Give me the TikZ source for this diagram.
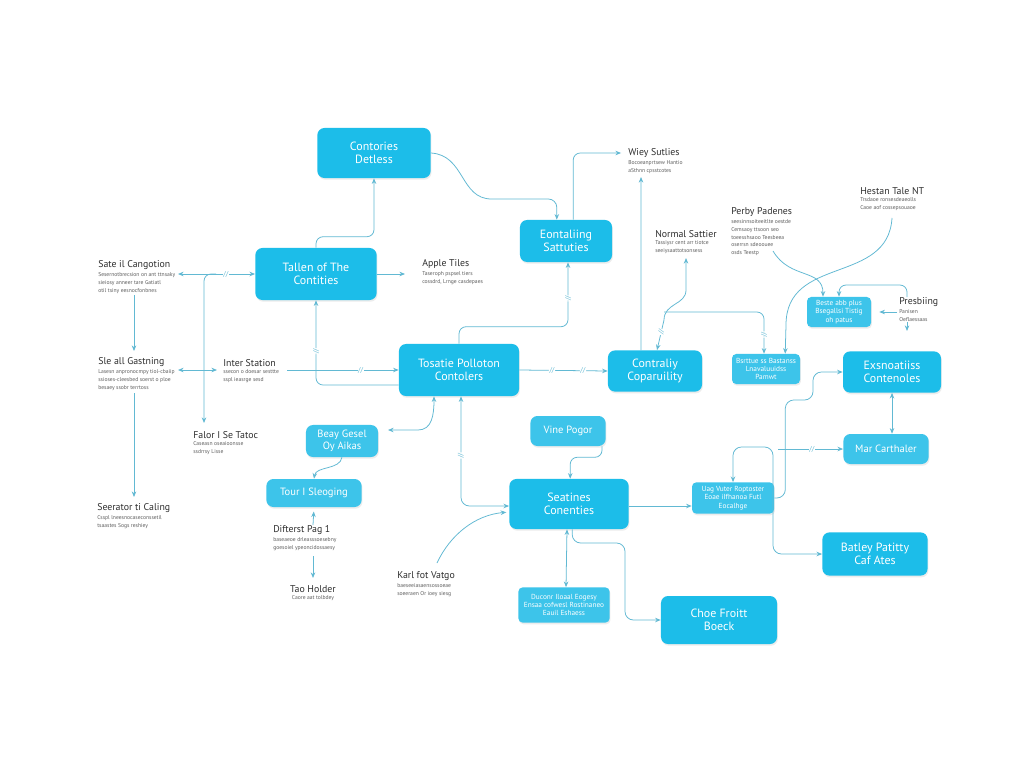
\documentclass[tikz,border=0pt]{standalone}
\usepackage{fontspec}
\setmainfont{PT Sans}
\usetikzlibrary{arrows.meta,positioning,calc,shadows}
\definecolor{boxblue}{HTML}{1CBDE9}
\definecolor{boxlight}{HTML}{3DC4EA}
\definecolor{linkblue}{HTML}{62B9D3}
\definecolor{inkgray}{HTML}{2E2E2E}
\definecolor{descgray}{HTML}{5E5E5E}
\tikzset{
  cbox/.style={rounded corners=5pt, fill=boxblue, text=white, align=center, inner sep=1pt,
    font=\fontsize{8.5}{9.5}\selectfont,
    drop shadow={opacity=0.15, shadow xshift=0.6pt, shadow yshift=-1.2pt}},
  cboxsm/.style={cbox, fill=boxlight, font=\fontsize{7.5}{8.5}\selectfont},
  cboxtiny/.style={cbox, fill=boxlight, rounded corners=3pt, font=\fontsize{5.2}{6}\selectfont},
  ttl/.style={anchor=west, inner sep=0pt, text=inkgray, font=\fontsize{7}{8}\selectfont},
  dsc/.style={anchor=north west, inner sep=0pt, align=left, text=descgray, font=\fontsize{4}{5.4}\selectfont},
  link/.style={draw=linkblue, line width=0.55pt, -{Stealth[length=4pt,width=3.2pt]}},
  link2/.style={link, {Stealth[length=4pt,width=3.2pt]}-{Stealth[length=4pt,width=3.2pt]}},
  brk/.style={fill=white, inner sep=0.4pt, text=linkblue, font=\fontsize{5}{5}\selectfont, sloped}
}
\begin{document}
\begin{tikzpicture}[x=0.025cm, y=-0.025cm]
    \useasboundingbox (0,0) rectangle (1024,768);
    \fill[white] (0,0) rectangle (1024,768);

    % Boxes
    \node[cbox, minimum width=2.83cm, minimum height=1.25cm] (cdet) at (374,153) {Contories\\Detless};
    \node[cbox, minimum width=3.03cm, minimum height=1.3cm] (tallen) at (316,274) {Tallen of The\\Contities};
    \node[cbox, minimum width=3.0cm, minimum height=1.3cm] (main) at (459,370) {Tosatie Polloton\\Contolers};
    \node[cbox, minimum width=2.3cm, minimum height=1.05cm] (eont) at (566,241) {Eontaliing\\Sattuties};
    \node[cbox, minimum width=2.35cm, minimum height=1.03cm] (contr) at (655,371) {Contraliy\\Coparuility};
    \node[cboxtiny, minimum width=1.7cm, minimum height=0.75cm] (bsr) at (766,369) {Bsrttue ss Bastanss\\Lnavaluuidss\\Pamwt};
    \node[cboxtiny, minimum width=1.6cm, minimum height=0.75cm] (pbox) at (839,312) {Beste abb plus\\Bsegallsi Tistig\\oh patus};
    \node[cbox, minimum width=2.45cm, minimum height=1.03cm] (exs) at (892,372) {Exsnoatiiss\\Contenoles};
    \node[cboxsm, minimum width=2.13cm, minimum height=0.75cm] (mar) at (886,449) {Mar Carthaler};
    \node[cbox, minimum width=2.63cm, minimum height=1.08cm] (bat) at (875,554) {Batley Patitty\\Caf Ates};
    \node[cbox, minimum width=2.9cm, minimum height=1.2cm] (choe) at (719,620) {Choe Froitt\\Boeck};
    \node[cboxtiny, minimum width=2.05cm, minimum height=0.78cm] (uag) at (733,498) {Uag Vuter Roptoster\\Eoae iIfhanoa Futl\\Eocalhge};
    \node[cbox, minimum width=2.98cm, minimum height=1.25cm] (seat) at (569,504) {Seatines\\Conenties};
    \node[cboxsm, minimum width=1.88cm, minimum height=0.75cm] (vine) at (568,431) {Vine Pogor};
    \node[cboxtiny, minimum width=2.28cm, minimum height=0.88cm] (duc) at (564,605) {Duconr Iloaal Eogesy\\Ensaa cofwesl Rostinaneo\\Eauil Eshaess};
    \node[cboxsm, minimum width=1.8cm, minimum height=0.8cm] (beay) at (342,441) {Beay Gesel\\Oy Aikas};
    \node[cboxsm, minimum width=2.38cm, minimum height=0.7cm] (tour) at (314,493) {Tour I Sleoging};

    % Labels
    \node[ttl] (sate) at (98,265) {Sate il Cangotion};
    \node[dsc] at ([yshift=-2pt]sate.south west) {Sesernotbrecsion on ant ttnsaky\\sieiosy anneer tare Gatiatl\\otil tsiny eesnocfonbnes};
    \node[ttl] (sle) at (98,362) {Sle all Gastning};
    \node[dsc] at ([yshift=-2pt]sle.south west) {Lasesn anpronocmpy tiol-cbaiip\\ssioses-cleesbed soerst o ploe\\besaey ssobr terrtoss};
    \node[ttl] (seer) at (97,508) {Seerator ti Caling};
    \node[dsc] at ([yshift=-2pt]seer.south west) {Csspl lneesnocaseconssetil\\tsaastes Sogs reshiey};
    \node[ttl] (falor) at (193,435) {Falor I Se Tatoc};
    \node[dsc] at ([yshift=-2pt]falor.south west) {Caseasn oseaioonsse\\ssdrrsy Lisse};
    \node[ttl] (inter) at (223,363) {Inter Station};
    \node[dsc] at ([yshift=-2pt]inter.south west) {ssecon o doesar sesttte\\sspl ieasrge sesd};
    \node[ttl] (apple) at (422,264) {Apple Tiles};
    \node[dsc] at ([yshift=-2pt]apple.south west) {Taseroph pspsel tiers\\cossdrd, Lrnge casdepaes};
    \node[ttl] (wiey) at (628,153) {Wiey Sutlies};
    \node[dsc] at ([yshift=-2pt]wiey.south west) {Bocoeanprtsew Hantio\\aSthnn cpsstcotes};
    \node[ttl] (normal) at (655,234) {Normal Sattier};
    \node[dsc] at ([yshift=-2pt]normal.south west) {Tassiysr cent arr tiotce\\seeiysaattotsonsess};
    \node[ttl] (perby) at (731,212) {Perby Padenes};
    \node[dsc] at ([yshift=-2pt]perby.south west) {seesinnsoiteeitlte oestde\\Cemsaoy ttsoon seo\\toeesshsaoo Teesbeea\\oserrsn sdeoouee\\osds Teestp};
    \node[ttl] (hestan) at (860,191) {Hestan Tale NT};
    \node[dsc] at ([yshift=-2pt]hestan.south west) {Trsdaoe ronsesdeaeolls\\Caoe aof cossepsouaoe};
    \node[ttl] (presb) at (899,302) {Presbiing};
    \node[dsc] at ([yshift=-2pt]presb.south west) {Panisen\\Oeflaessaas};
    \node[ttl] (difterst) at (273,530) {Difterst Pag 1};
    \node[dsc] at ([yshift=-2pt]difterst.south west) {baseaeoe drleasssoesebny\\goesoiel ypeoncidossaesy};
    \node[ttl, anchor=center] (tao) at (313,589) {Tao Holder};
    \node[dsc, anchor=north, align=center] at ([yshift=-2pt]tao.south) {Caore aat tolbdey};
    \node[ttl] (karl) at (397,576) {Karl fot Vatgo};
    \node[dsc] at ([yshift=-2pt]karl.south west) {baeseeiasaensossoeae\\soeeraen Or ioey siesg};

    % Free ends
    \coordinate (sateR) at (178,274);
    \coordinate (fork) at (216,274);
    \coordinate (falorT) at (204,423);
    \coordinate (sateB) at (134,295);
    \coordinate (sleT) at (134,351);
    \coordinate (sleB) at (134,393);
    \coordinate (seerT) at (134,497);
    \coordinate (sleR) at (178,370);
    \coordinate (interL) at (217,370);
    \coordinate (interR) at (287,370);
    \coordinate (appleL) at (405,274);
    \coordinate (wieyL) at (621,153);
    \coordinate (wieyB) at (641,177);
    \coordinate (normB) at (686,258);
    \coordinate (normK) at (664,312);
    \coordinate (perbyB) at (773,251);
    \coordinate (hestB) at (892,218);
    \coordinate (presL) at (897,312);
    \coordinate (presT) at (907,297);
    \coordinate (presD) at (907,322);
    \coordinate (beayR) at (388,430);
    \coordinate (difT) at (313,525);
    \coordinate (difB) at (313,556);
    \coordinate (taoT) at (313,578);
    \coordinate (karlT) at (437,563);
    \coordinate (marJ) at (778,449);

    % Left side
    \draw[link2] (sateR) -- (tallen.west) node[brk, pos=0.62] {//};
    \draw[link, rounded corners=5pt] (fork) -| (falorT);
    \draw[link] (sateB) -- (sleT);
    \draw[link] (sleB) -- (seerT);
    \draw[link2] (sleR) -- (interL);
    \draw[link] (interR) -- (main.west) node[brk, pos=0.66] {//};
    \draw[link, rounded corners=5pt] ([yshift=-0.375cm]main.west) -| (tallen.south) node[brk, pos=0.7] {//};

    % Top
    \draw[link] (tallen.east) -- (appleL);
    \draw[link, rounded corners=5pt] (tallen.north) -- ++(0,-11) -| (cdet.south);
    \draw[link, rounded corners=6pt] (cdet.east) .. controls (465,155) and (460,199) .. (500,199) -| ([xshift=-0.23cm]eont.north);
    \draw[link, rounded corners=5pt] ([xshift=0.18cm]eont.north) |- (wieyL);
    \draw[link, rounded corners=5pt] (main.north) -- ++(0,-17) -| ([xshift=0.05cm]eont.south) node[brk, pos=0.72] {//};
    \draw[link] (main.east) -- (contr.west) node[brk, pos=0.37] {//} node[brk, pos=0.72] {//};
    \draw[link] ([xshift=-0.35cm]contr.north) -- (wieyB);

    % Right top
    \draw[link2] (normB) -- (686,290) .. controls (686,305) and (664,303) .. (664,320) -- node[brk, pos=0.4] {//} ([xshift=0.05cm]contr.north);
    \draw[link, rounded corners=5pt] (normK) -| ([xshift=-0.05cm]bsr.north) node[brk, pos=0.77] {//};
    \draw[link] (perbyB) .. controls (790,280) and (823,268) .. ([xshift=-0.4cm]pbox.north);
    \draw[link] (hestB) .. controls (888,285) and (786,255) .. (786,325) -- ([xshift=0.48cm]bsr.north);
    \draw[link] (presL) -- ([xshift=0.2cm]pbox.east);
    \draw[link, rounded corners=5pt] (presT) -- ++(0,-12) -| (pbox.north);
    \draw[link] (presD) -- ++(0,9);

    % Lower left
    \draw[link2] (beayR) -- (418,430) .. controls (432,430) and (434,415) .. ([xshift=-0.625cm]main.south);
    \draw[link2, rounded corners=6pt] ([xshift=0.05cm]main.south) |- ([yshift=-0.05cm]seat.west) node[brk, pos=0.27] {//};
    \draw[link] (beay.south) .. controls (340,470) and (316,466) .. (tour.north);
    \draw[link, shorten >=3pt] (difT) -- (tour.south);
    \draw[link] (difB) -- (taoT);
    \draw[link, shorten >=2pt] (karlT) .. controls (450,535) and (475,515) .. ([yshift=-0.2cm]seat.west);

    % Lower right
    \draw[link, rounded corners=5pt] ([xshift=0.85cm]vine.south) -- ++(0,11) -| ([xshift=0.03cm]seat.north);
    \draw[link2] ([xshift=-0.05cm]seat.south) -- ([xshift=0.05cm]duc.north);
    \draw[link, rounded corners=6pt] ([xshift=0.08cm]seat.south) |- (625,543) |- (choe.west);
    \draw[link] ([yshift=-0.05cm]seat.east) -- ([yshift=-0.05cm]seat.east -| uag.west);
    \draw[link, rounded corners=6pt] (uag.east) -- ++(11,0) |- (813,400) |- (exs.west);
    \draw[link2, rounded corners=6pt] (uag.north) |- (773,447) |- (bat.west);
    \draw[link] (marJ) -- (mar.west) node[brk, pos=0.52] {//};
    \draw[link2] (exs.south) -- (exs.south |- mar.north);
\end{tikzpicture}
\end{document}
